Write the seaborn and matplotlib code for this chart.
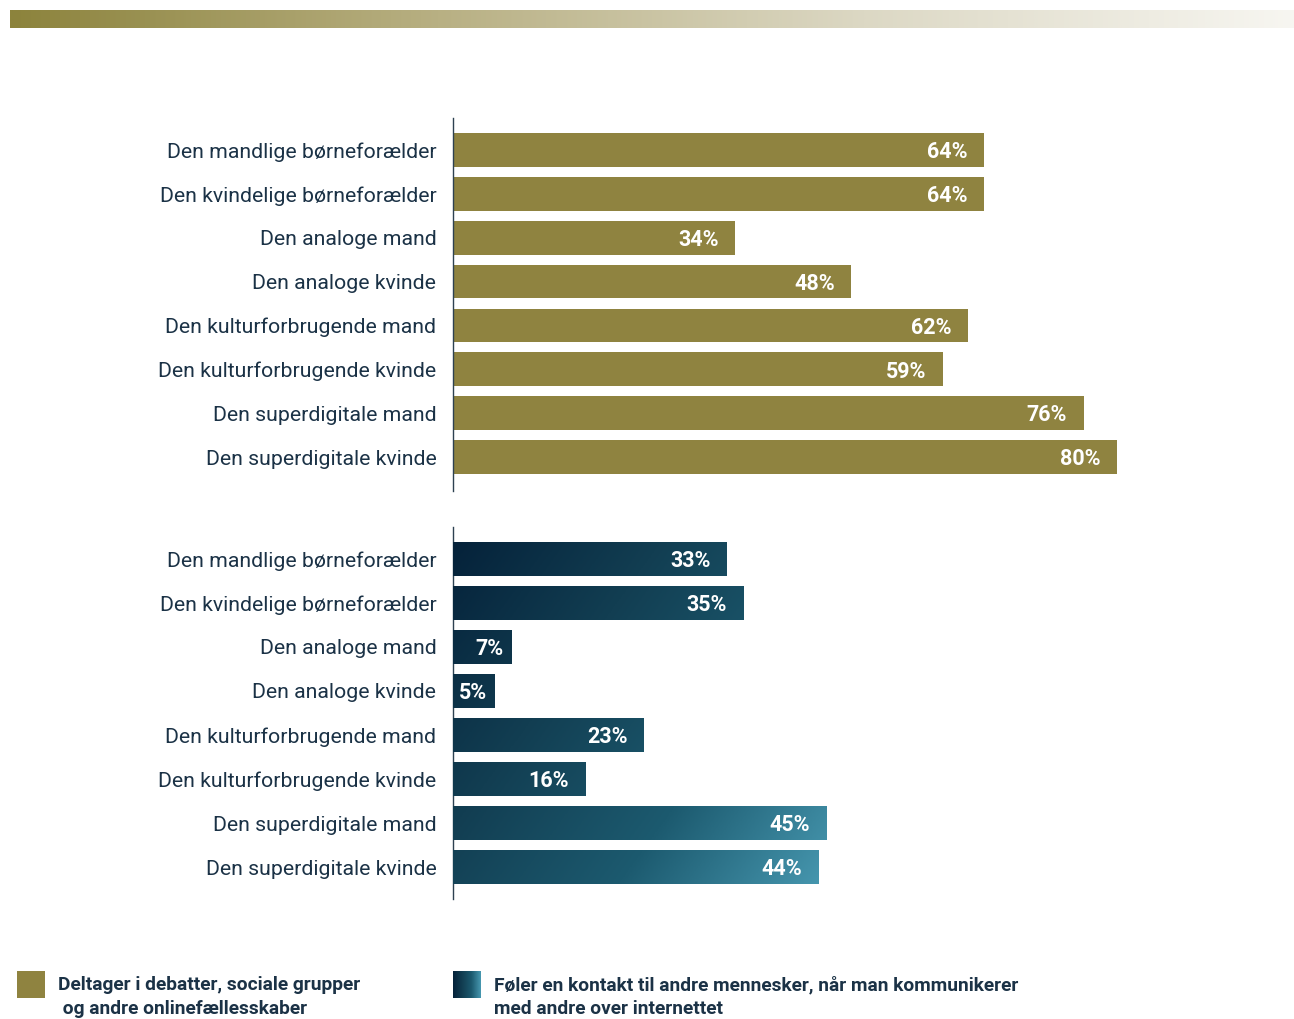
import numpy as np
import pandas as pd
import matplotlib
matplotlib.use("Agg")
import matplotlib.pyplot as plt
from matplotlib.colors import LinearSegmentedColormap
from matplotlib.patches import Rectangle
import seaborn as sns

# ---- data ----
segments = [
    "Den mandlige børneforælder",
    "Den kvindelige børneforælder",
    "Den analoge mand",
    "Den analoge kvinde",
    "Den kulturforbrugende mand",
    "Den kulturforbrugende kvinde",
    "Den superdigitale mand",
    "Den superdigitale kvinde",
]
debate_share = [64, 64, 34, 48, 62, 59, 76, 80]
contact_share = [33, 35, 7, 5, 23, 16, 45, 44]
legend_debate = "Deltager i debatter, sociale grupper\n og andre onlinefællesskaber"
legend_contact = "Føler en kontakt til andre mennesker, når man kommunikerer\nmed andre over internettet"

# ---- style ----
sns.set_theme(style="white")
plt.rcParams["font.family"] = ["Roboto", "DejaVu Sans"]

OLIVE = "#8f8340"
NAVY_TEXT = "#1b3246"
SPINE = "#2d4151"
blue_cmap = LinearSegmentedColormap.from_list(
    "contact", ["#05223a", "#123e52", "#1c5a6f", "#4798b0"], N=256)
band_cmap = LinearSegmentedColormap.from_list(
    "band", ["#8c833c", "#b8b083", "#dcd8c4", "#f7f6f1"], N=256)

W, H = 1294, 1019
fig = plt.figure(figsize=(W / 100, H / 100), dpi=100)
fig.patch.set_facecolor("white")


def fx(px):
    return px / W


def fy(py):
    return 1 - py / H


# decorative band along the top edge
band_ax = fig.add_axes([fx(10), fy(28), fx(1284), 18 / H])
band_ax.imshow(np.linspace(0, 1, 512)[None, :], aspect="auto", cmap=band_cmap,
               extent=[0, 1, 0, 1])
band_ax.set_axis_off()

XMAX = 90
ax_w = XMAX * 8.3 / W
ax_top = fig.add_axes([fx(453), fy(491), ax_w, 373 / H])
ax_bot = fig.add_axes([fx(453), fy(899), ax_w, 372 / H])

df_top = pd.DataFrame({"segment": segments, "value": debate_share})
df_bot = pd.DataFrame({"segment": segments, "value": contact_share})

sns.barplot(data=df_top, x="value", y="segment", orient="h", color=OLIVE,
            saturation=1, width=0.77, ax=ax_top)
sns.barplot(data=df_bot, x="value", y="segment", orient="h", color="#1c5a6f",
            saturation=1, width=0.77, ax=ax_bot)

for ax in (ax_top, ax_bot):
    ax.set_xlabel("")
    ax.set_ylabel("")
    ax.set_xticks([])
    for side in ("top", "right", "bottom"):
        ax.spines[side].set_visible(False)
    ax.spines["left"].set_color(SPINE)
    ax.spines["left"].set_linewidth(1.0)
    ax.tick_params(axis="y", length=0, pad=12, labelsize=15.3, labelcolor=NAVY_TEXT)
    ax.set_facecolor("none")
    for p in ax.patches:
        p.set_edgecolor("none")

# diagonal gradient shared by the whole lower panel, clipped to each bar
yy, xx = np.mgrid[0:1:200j, 0:1:400j]
x_end = max(contact_share)
y0, y1 = -0.4, 7.4
grad = 0.6 * xx + 0.4 * yy
grad = grad / grad.max()
for p in ax_bot.patches:
    im = ax_bot.imshow(grad, cmap=blue_cmap, aspect="auto", origin="upper",
                       extent=[0, x_end, y1, y0], zorder=3, interpolation="bilinear")
    im.set_clip_path(p)

ax_top.set_xlim(0, XMAX)
ax_bot.set_xlim(0, XMAX)
ax_top.set_ylim(7 + 0.773, -0.727)
ax_bot.set_ylim(7 + 0.727, -0.727)

# value labels inside the bar ends
for ax, vals in ((ax_top, debate_share), (ax_bot, contact_share)):
    for i, v in enumerate(vals):
        pad = 2.0 if v >= 10 else 0.9
        ax.text(v - pad, i + 0.05, f"{v}%", ha="right", va="center",
                color="white", fontsize=15.5, fontweight="bold", zorder=5)

# legend
fig.patches.append(Rectangle((fx(17), fy(998)), fx(28), 27 / H,
                             transform=fig.transFigure, facecolor=OLIVE,
                             edgecolor="none"))
leg_ax = fig.add_axes([fx(453), fy(998), fx(28), 27 / H])
leg_ax.imshow(np.linspace(0, 1, 128)[None, :], aspect="auto", cmap=blue_cmap,
              extent=[0, 1, 0, 1])
leg_ax.set_axis_off()

fig.text(fx(58), fy(997), legend_debate, ha="left", va="center", fontsize=13.8,
         fontweight="bold", color=NAVY_TEXT, linespacing=1.45)
fig.text(fx(494), fy(997), legend_contact, ha="left", va="center", fontsize=13.8,
         fontweight="bold", color=NAVY_TEXT, linespacing=1.45)

fig.savefig("out.png", dpi=100, facecolor="white")
